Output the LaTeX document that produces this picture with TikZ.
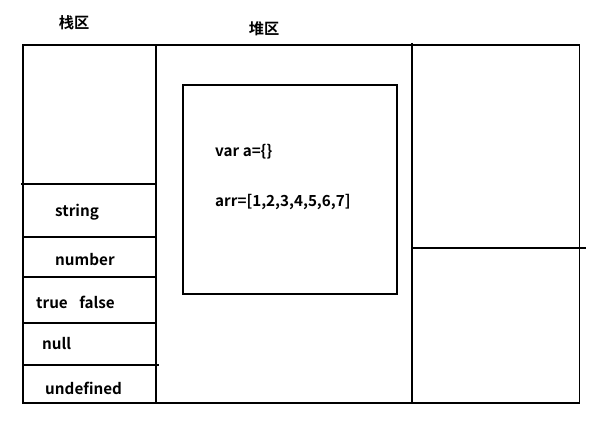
\documentclass[tikz,border=0pt]{standalone}
\usepackage{fontspec}
\setmainfont{Noto Sans CJK SC}[BoldFont={* Bold}]
\usepackage{tikz}
\usetikzlibrary{positioning}

\tikzset{
  wall/.style={line width=0.9pt},
  lbl/.style={font=\bfseries\fontsize{13}{15}\selectfont, inner sep=0pt, anchor=west},
  title/.style={font=\bfseries\fontsize{13}{15}\selectfont, inner sep=0pt}
}

\begin{document}
\begin{tikzpicture}[x=0.03cm,y=-0.03cm]
  \useasboundingbox (0,0) rectangle (601,428);
  \draw[wall] (23,45) rectangle (579.5,403); % 外框
  \draw[wall] (156,45) -- (156,403); % 栈区与堆区的分隔线
  \draw[wall] (412,43) -- (412,403); % 右侧的分隔线
  \draw[wall] (21,184) -- (157,184); % 栈区上部的横线
  \foreach \y in {237,277,323} \draw[wall] (23,\y) -- (156,\y); % 栈区的格子
  \draw[wall] (23,365) -- (159,365); % 最下面一格
  \draw[wall] (412,248) -- (586,248); % 右侧的横线
  \draw[wall] (183,85) rectangle (397,294); % 堆区里的对象

  \node[title] (stack) at (74,23) {栈区};
  \node[title] (heap) at (264,29) {堆区};
  \node[lbl] (obj) at (215,152) {var a=\{\}};
  \node[lbl] (arr) at (215,202) {arr=[1,2,3,4,5,6,7]};
  \node[lbl] (str) at (55,212) {string};
  \node[lbl] (num) at (55,260) {number};
  \node[lbl] (bool) at (36,302) {true\hspace{0.75em}false};
  \node[lbl] (nul) at (42,344) {null};
  \node[lbl] (undef) at (45,388) {undefined};
\end{tikzpicture}
\end{document}
